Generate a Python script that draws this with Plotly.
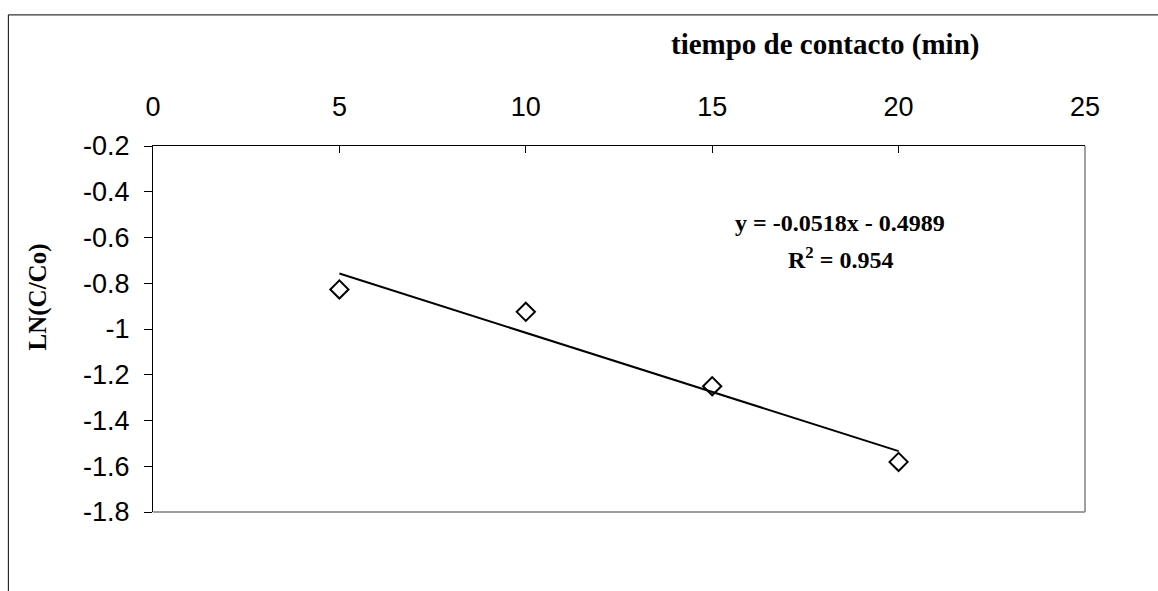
import numpy as np
import plotly.graph_objects as go

# Data
tiempo = [5, 10, 15, 20]
ln_c_co = [-0.827, -0.925, -1.250, -1.581]

x_tickvals = [0, 5, 10, 15, 20, 25]
x_ticktext = ["0", "5", "10", "15", "20", "25"]
y_tickvals = [-0.2, -0.4, -0.6, -0.8, -1.0, -1.2, -1.4, -1.6, -1.8]
y_ticktext = ["-0.2", "-0.4", "-0.6", "-0.8", "-1", "-1.2", "-1.4", "-1.6", "-1.8"]

eq_text = "<b>y = -0.0518x - 0.4989</b>"
r2_text = "<b>R<sup>2</sup> = 0.954</b>"
x_title = "<b>tiempo de contacto (min)</b>"
y_title = "<b>LN(C/Co)</b>"

# Linear trendline from data
slope, intercept = np.polyfit(tiempo, ln_c_co, 1)
trend_x = [min(tiempo), max(tiempo)]
trend_y = [slope * v + intercept for v in trend_x]

W, H = 1158, 591
ml, mt, mr, mb = 152.7, 146, 73, 79.3
pw = W - ml - mr
ph = H - mt - mb

def px(xp):
    return (xp - ml) / pw

def py(yp):
    return (H - mb - yp) / ph

SANS = "Liberation Sans, Arial"
SERIF = "Liberation Serif, Times New Roman"

fig = go.Figure()
fig.add_trace(go.Scatter(
    x=trend_x, y=trend_y, mode="lines",
    line=dict(color="black", width=2), showlegend=False, hoverinfo="skip"))
fig.add_trace(go.Scatter(
    x=tiempo, y=ln_c_co, mode="markers",
    marker=dict(symbol="diamond-open", size=14, color="black", line=dict(width=2, color="black")),
    showlegend=False))

fig.update_layout(
    width=W, height=H,
    margin=dict(l=ml, r=mr, t=mt, b=mb, pad=0),
    paper_bgcolor="white", plot_bgcolor="white",
    font=dict(family=SANS, size=27, color="black"),
    xaxis=dict(
        range=[0, 25], side="top", tickmode="array",
        tickvals=x_tickvals, ticktext=x_ticktext,
        showgrid=False, zeroline=False,
        showline=True, linecolor="black", linewidth=1,
        ticks="inside", ticklen=7, tickcolor="black", tickwidth=1,
        ticklabelstandoff=18,
        tickfont=dict(family=SANS, size=27, color="black"),
    ),
    yaxis=dict(
        range=[-1.8, -0.2], tickmode="array",
        tickvals=y_tickvals, ticktext=y_ticktext,
        showgrid=False, zeroline=False,
        showline=True, linecolor="black", linewidth=1,
        ticks="outside", ticklen=8, tickcolor="black", tickwidth=1,
        ticklabelstandoff=9,
        tickfont=dict(family=SANS, size=27, color="black"),
    ),
    shapes=[
        # plot area right and bottom border (gray)
        dict(type="line", xref="paper", yref="paper", x0=1, x1=1, y0=0, y1=1,
             line=dict(color="#808080", width=1.5)),
        dict(type="line", xref="paper", yref="paper", x0=0, x1=1, y0=0, y1=0,
             line=dict(color="#808080", width=1.5)),
        # chart area border
        dict(type="rect", xref="paper", yref="paper",
             x0=px(8), x1=px(1170), y0=py(600), y1=py(15),
             line=dict(color="black", width=1), layer="below"),
    ],
    annotations=[
        dict(text=x_title, xref="paper", yref="paper", x=px(825), y=py(45),
             showarrow=False, xanchor="center", yanchor="middle",
             font=dict(family=SERIF, size=29, color="black")),
        dict(text=y_title, xref="paper", yref="paper", x=px(38), y=py(297),
             showarrow=False, xanchor="center", yanchor="middle", textangle=-90,
             font=dict(family=SERIF, size=25, color="black")),
        dict(text=eq_text, xref="paper", yref="paper", x=px(840), y=py(223),
             showarrow=False, xanchor="center", yanchor="middle",
             font=dict(family=SERIF, size=24, color="black")),
        dict(text=r2_text, xref="paper", yref="paper", x=px(840), y=py(258),
             showarrow=False, xanchor="center", yanchor="middle",
             font=dict(family=SERIF, size=24, color="black")),
    ],
)

fig.write_html("out.html")
